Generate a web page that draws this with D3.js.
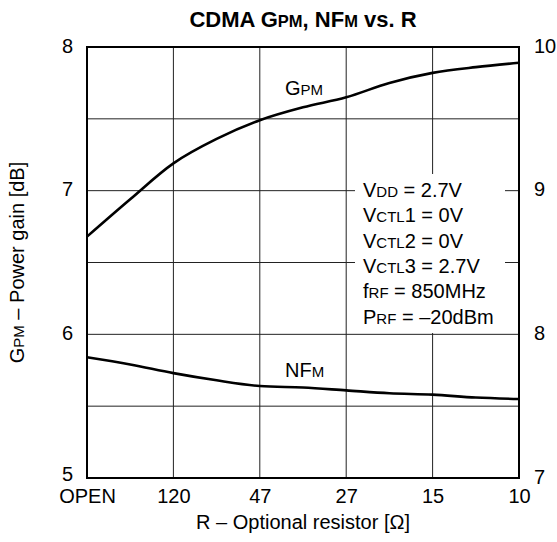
<!DOCTYPE html>
<html><head><meta charset="utf-8">
<script src="https://cdn.jsdelivr.net/npm/d3@7"></script>
<style>body{margin:0;background:#fff}</style></head>
<body><svg id="c" width="557" height="542"></svg>
<script>
const categories = ["OPEN","120","47","27","15","10"];
const xPos = [0,0.5,1,1.5,2,2.5,3,3.5,4,4.5,5];
const gpmValues = [6.68,6.94,7.19,7.36,7.49,7.58,7.65,7.75,7.82,7.86,7.89];
const nfmValues = [7.84,7.79,7.73,7.68,7.64,7.63,7.61,7.59,7.58,7.56,7.55];
const leftTicks = [5,6,7,8];
const rightTicks = [7,8,9,10];
const gridValues = [5.5,6,6.5,7,7.5];
const conditions = [
  [["V",0],["DD",1],[" = 2.7V",0]],
  [["V",0],["CTL",1],["1 = 0V",0]],
  [["V",0],["CTL",1],["2 = 0V",0]],
  [["V",0],["CTL",1],["3 = 2.7V",0]],
  [["f",0],["RF",1],[" = 850MHz",0]],
  [["P",0],["RF",1],[" = \u201320dBm",0]]
];

const FONT = "Liberation Sans, Arial, Helvetica, sans-serif";
const svg = d3.select("#c").style("font-family", FONT);
const L = 87, R = 519, T = 47, B = 478;
const x = d3.scaleLinear().domain([0,5]).range([L,R]);
const yL = d3.scaleLinear().domain([5,8]).range([B,T]);
const yR = d3.scaleLinear().domain([7,10]).range([B,T]);

function rich(sel, parts, big, small){
  parts.forEach(p => sel.append("tspan").attr("font-size", p[1] ? small : big).text(p[0]));
}

// grid
const g = svg.append("g");
g.selectAll(".vg").data(d3.range(1,5)).join("line")
  .attr("x1", d=>x(d)).attr("x2", d=>x(d)).attr("y1", T).attr("y2", B)
  .attr("stroke","#222").attr("stroke-width",1);
g.selectAll(".hg").data(gridValues).join("line")
  .attr("x1", L).attr("x2", R).attr("y1", d=>yL(d)).attr("y2", d=>yL(d))
  .attr("stroke","#222").attr("stroke-width",1);

// white box for conditions
svg.append("rect").attr("x",355).attr("y",174).attr("width",150).attr("height",159).attr("fill","#fff");

// border
svg.append("rect").attr("x",L).attr("y",T).attr("width",R-L).attr("height",B-T)
  .attr("fill","none").attr("stroke","#000").attr("stroke-width",2);

// axes (labels only)
const ax = svg.append("g").attr("transform",`translate(0,${B})`)
  .call(d3.axisBottom(x).tickValues(d3.range(0,6)).tickFormat(i=>categories[i]).tickSize(0).tickPadding(11));
const al = svg.append("g").attr("transform",`translate(${L},0)`)
  .call(d3.axisLeft(yL).tickValues(leftTicks).tickFormat(d3.format("d")).tickSize(0).tickPadding(14));
const ar = svg.append("g").attr("transform",`translate(${R},0)`)
  .call(d3.axisRight(yR).tickValues(rightTicks).tickFormat(d3.format("d")).tickSize(0).tickPadding(15));
[ax,al,ar].forEach(a=>{ a.select(".domain").remove(); a.selectAll("text").attr("font-size",20).attr("font-family",FONT).attr("fill","#000"); });
[al,ar].forEach(a=>a.selectAll("text").attr("dy", d => d === 5 ? "0.12em" : "0.25em"));

// curves
const line = d3.line().curve(d3.curveCatmullRom.alpha(0.5));
svg.append("path").attr("d", line(xPos.map((d,i)=>[x(d), yL(gpmValues[i])])))
  .attr("fill","none").attr("stroke","#000").attr("stroke-width",2.6);
svg.append("path").attr("d", line(xPos.map((d,i)=>[x(d), yR(nfmValues[i])])))
  .attr("fill","none").attr("stroke","#000").attr("stroke-width",2.6);

// curve labels
rich(svg.append("text").attr("x",285).attr("y",95), [["G",0],["PM",1]], 20, 15);
rich(svg.append("text").attr("x",285).attr("y",377), [["NF",0],["M",1]], 20, 15);

// conditions
conditions.forEach((parts,i)=>{
  rich(svg.append("text").attr("x",363).attr("y",197+i*25.3), parts, 20, 15);
});

// title
rich(svg.append("text").attr("x",(L+R)/2).attr("y",27).attr("text-anchor","middle").attr("font-weight","bold"),
  [["CDMA G",0],["PM",1],[", NF",0],["M",1],[" vs. R",0]], 22, 16.5);

// x label
svg.append("text").attr("x",(L+R)/2).attr("y",529).attr("text-anchor","middle").attr("font-size",20)
  .text("R \u2013 Optional resistor [\u03A9]");

// y label
rich(svg.append("text").attr("transform",`translate(24,${(T+B)/2}) rotate(-90)`).attr("text-anchor","middle"),
  [["G",0],["PM",1],[" \u2013 Power gain [dB]",0]], 20, 15);
</script></body></html>
